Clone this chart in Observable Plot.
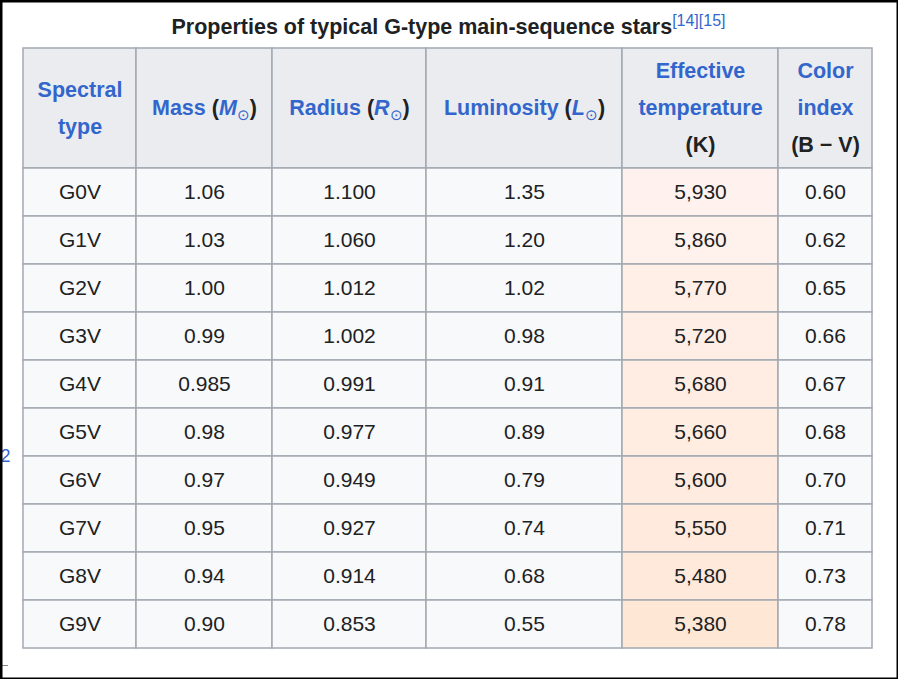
<!DOCTYPE html>
<html>
<head>
<meta charset="utf-8">
<script src="https://cdn.jsdelivr.net/npm/d3@7"></script>
<script src="https://cdn.jsdelivr.net/npm/@observablehq/plot@0.6"></script>
<style>
  body { margin: 0; background: #fff; }
  svg { display: block; }
</style>
</head>
<body>
<div id="chart"></div>
<script>
// table values
const types = ["G0V", "G1V", "G2V", "G3V", "G4V", "G5V", "G6V", "G7V", "G8V", "G9V"];
const mass = ["1.06", "1.03", "1.00", "0.99", "0.985", "0.98", "0.97", "0.95", "0.94", "0.90"];
const radius = ["1.100", "1.060", "1.012", "1.002", "0.991", "0.977", "0.949", "0.927", "0.914", "0.853"];
const luminosity = ["1.35", "1.20", "1.02", "0.98", "0.91", "0.89", "0.79", "0.74", "0.68", "0.55"];
const temperature = [5930, 5860, 5770, 5720, 5680, 5660, 5600, 5550, 5480, 5380];
const colorIndex = ["0.60", "0.62", "0.65", "0.66", "0.67", "0.68", "0.70", "0.71", "0.73", "0.78"];

// layout
const colEdges = [23, 136, 272, 426, 622, 778, 872];
const headTop = 48, headBottom = 168, rowH = 48;
const blue = "#3366cc", ink = "#202122", border = "#a2a9b1";

const columns = [types, mass, radius, luminosity, temperature.map(d => d3.format(",")(d)), colorIndex];
const tempColor = d3.scaleLinear([5380, 5930], ["#ffe7d6", "#fff2ee"]);

let cells = [];
columns.forEach((col, c) => col.forEach((v, r) => cells.push({
  c, r, text: v,
  x1: colEdges[c], x2: colEdges[c + 1],
  y1: headBottom + r * rowH, y2: headBottom + (r + 1) * rowH,
  fill: c === 4 ? tempColor(temperature[r]) : "#f8f9fa"
})));

const headCells = colEdges.slice(0, -1).map((x, c) => ({x1: x, x2: colEdges[c + 1], y1: headTop, y2: headBottom}));

// header lines: parts are [text, style]
const headers = [
  {c: 0, lines: [[["Spectral", "b"]], [["type", "b"]]]},
  {c: 1, lines: [[["Mass (", "bp"], ["M", "i"], ["⊙", "s"], [")", "p"]]]},
  {c: 2, lines: [[["Radius (", "bp"], ["R", "i"], ["⊙", "s"], [")", "p"]]]},
  {c: 3, lines: [[["Luminosity (", "bp"], ["L", "i"], ["⊙", "s"], [")", "p"]]]},
  {c: 4, lines: [[["Effective", "b"]], [["temperature", "b"]], [["(K)", "p"]]]},
  {c: 5, lines: [[["Color", "b"]], [["index", "b"]], [["(B − V)", "p"]]]}
];
let headLines = [];
headers.forEach(h => h.lines.forEach((parts, i) => headLines.push({
  x: (colEdges[h.c] + colEdges[h.c + 1]) / 2,
  y: (headTop + headBottom) / 2 + (i - (h.lines.length - 1) / 2) * 37,
  parts
})));

const plot = Plot.plot({
  width: 898, height: 679, margin: 0,
  x: {domain: [0, 898], range: [0, 898], axis: null},
  y: {domain: [0, 679], range: [0, 679], axis: null},
  style: {fontFamily: "Liberation Sans, Arial, sans-serif"},
  marks: [
    Plot.rect(headCells, {x1: "x1", x2: "x2", y1: "y1", y2: "y2", fill: "#eaecf0", stroke: border, strokeWidth: 1.5}),
    Plot.rect(cells, {x1: "x1", x2: "x2", y1: "y1", y2: "y2", fill: "fill", stroke: border, strokeWidth: 1.5}),
    Plot.text(cells, {x: d => (d.x1 + d.x2) / 2, y: d => (d.y1 + d.y2) / 2, text: "text", fill: ink, fontSize: 21}),
    Plot.text(headLines, {x: "x", y: "y", text: d => d.parts.map(p => p[0]).join(""), fontSize: 21.5, fill: blue, className: "hdr"}),
    Plot.text(["Properties of typical G-type main-sequence stars"], {x: 448, y: 27, text: d => d, fontSize: 21.5, fontWeight: "bold", fill: ink, className: "ttl"}),
    Plot.text(["2"], {x: 0, y: 456, text: d => d, fontSize: 18, fill: blue, textAnchor: "start"}),
    Plot.ruleY([665], {x1: 0, x2: 8, stroke: "#888"}),
    Plot.frame({stroke: "#000", strokeWidth: 4})
  ]
});

// rich text in headers and title
d3.select(plot).selectAll(".hdr text").each(function(d) {
  const sel = d3.select(this).text(null);
  headLines[d].parts.forEach(([t, s]) => {
    if (s === "bp") {
      // label word blue, parenthesis dark
      sel.append("tspan").attr("font-weight", "bold").attr("fill", blue).text(t.slice(0, -1));
      sel.append("tspan").attr("font-weight", "bold").attr("fill", ink).text("(");
      return;
    }
    const ts = sel.append("tspan").text(t).attr("font-weight", "bold");
    if (s === "i") ts.attr("font-style", "italic");
    if (s === "p") ts.attr("fill", ink);
    if (s === "s") ts.attr("font-size", 15).attr("dy", 5).attr("font-weight", "normal");
    if (s === "p" && t === ")") ts.attr("dy", -5);
  });
});
d3.select(plot).selectAll(".ttl text").each(function() {
  d3.select(this).append("tspan").attr("font-size", 16).attr("font-weight", "normal")
    .attr("fill", blue).attr("dy", -8).text("[14][15]");
});

document.getElementById("chart").append(plot);
</script>
</body>
</html>
